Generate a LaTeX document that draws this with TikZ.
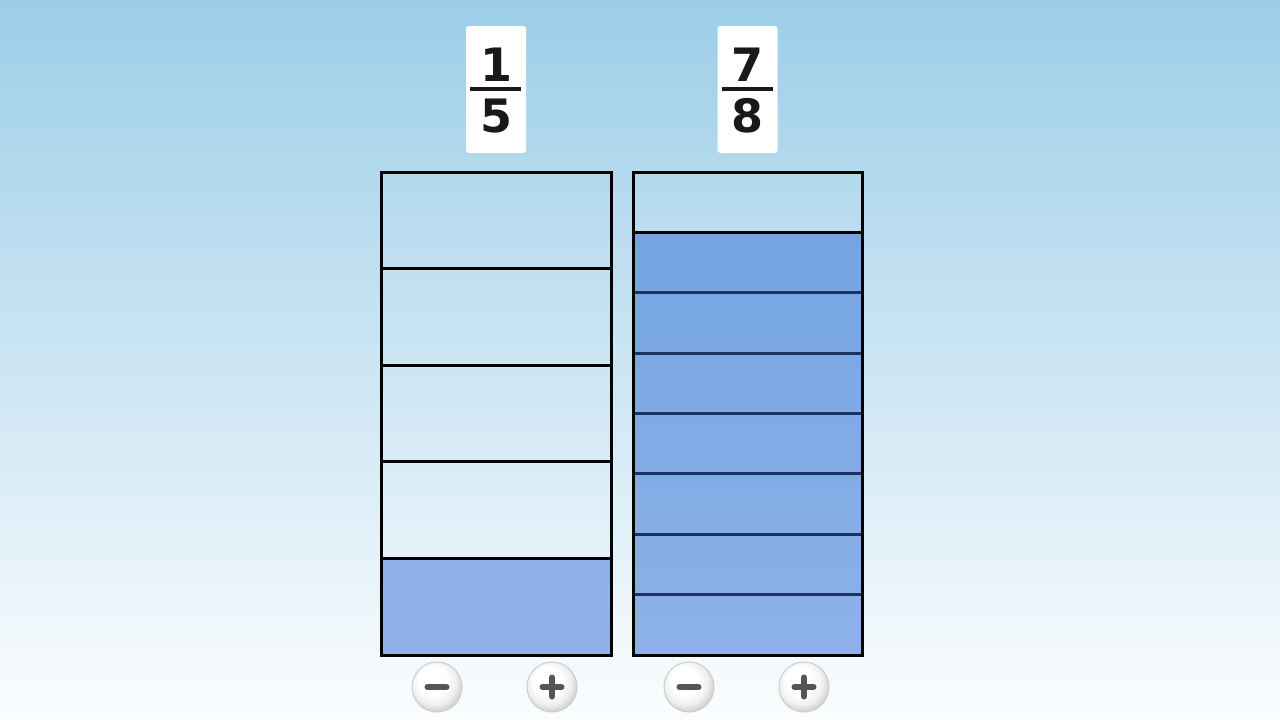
\documentclass[tikz,border=0pt]{standalone}
\usepackage{fontspec}
\setmainfont{DejaVu Sans}
\definecolor{bgtop}{RGB}{156,206,232}
\definecolor{bgbot}{RGB}{251,253,254}
\definecolor{fillA}{RGB}{116,165,226}
\definecolor{fillB}{RGB}{142,177,232}
\definecolor{navy}{RGB}{28,50,96}
\definecolor{signgray}{RGB}{85,85,85}
\pgfdeclareradialshading{btnshade}{\pgfpoint{-6bp}{8bp}}{%
  color(0bp)=(white); color(14bp)=(white); color(22bp)=(black!6); color(27bp)=(black!16); color(50bp)=(black!16)}
\tikzset{
  card/.style={fill=white, rounded corners=3pt, minimum width=60pt, minimum height=127pt, inner sep=0pt},
  digit/.style={font=\fontsize{46}{46}\selectfont\bfseries, text=black!90, inner sep=0pt},
  fracbar/.style={line width=3.5pt, black!90},
  outline/.style={line width=3pt, black},
  divline/.style={line width=3pt, black},
  darkline/.style={line width=3pt, navy},
  button/.style={circle, minimum size=50pt, inner sep=0pt, shading=btnshade, draw=black!20, line width=1pt},
  sign/.style={line width=6pt, signgray, line cap=round}
}
\begin{document}
\begin{tikzpicture}[x=1pt,y=-1pt]
\useasboundingbox (0,0) rectangle (1280,720);
\shade[top color=bgtop, bottom color=bgbot] (0,0) rectangle (1280,720);

% cards
\node[card] (c1) at (496,89.5) {};
\node[digit] (n1) at (496,65) {1};
\node[digit] (d1) at (496,116) {5};
\coordinate (b1l) at (470,89);
\coordinate (b1r) at (521,89);
\draw[fracbar] (b1l) -- (b1r);

\node[card] (c2) at (747.5,89.5) {};
\node[digit] (n2) at (747.5,65) {7};
\node[digit] (d2) at (747.5,116) {8};
\coordinate (b2l) at (722,89);
\coordinate (b2r) at (773,89);
\draw[fracbar] (b2l) -- (b2r);

% left bar: 5 parts, 1 filled
\fill[fillB] (381,558) rectangle (611,655);
\foreach \y in {268.6,365.2,461.8,558.4} \draw[divline] (381,\y) -- (611,\y);
\draw[outline] (381,172) rectangle (611,655);

% right bar: 8 parts, 7 filled
\shade[top color=fillA, bottom color=fillB] (633,232.4) rectangle (862,655);
\draw[divline] (633,232.4) -- (862,232.4);
\foreach \y in {292.8,353.1,413.5,473.9,534.2,594.6} \draw[darkline] (633,\y) -- (862,\y);
\draw[outline] (633,172) rectangle (862,655);

% buttons
\node[button] (m1) at (437,687) {};
\node[button] (p1) at (552,687) {};
\node[button] (m2) at (689,687) {};
\node[button] (p2) at (804,687) {};
\foreach \b in {m1,p1,m2,p2} \draw[sign] ([xshift=-9.5pt]\b.center) -- ([xshift=9.5pt]\b.center);
\foreach \b in {p1,p2} \draw[sign] ([yshift=-9.5pt]\b.center) -- ([yshift=9.5pt]\b.center);
\end{tikzpicture}
\end{document}
